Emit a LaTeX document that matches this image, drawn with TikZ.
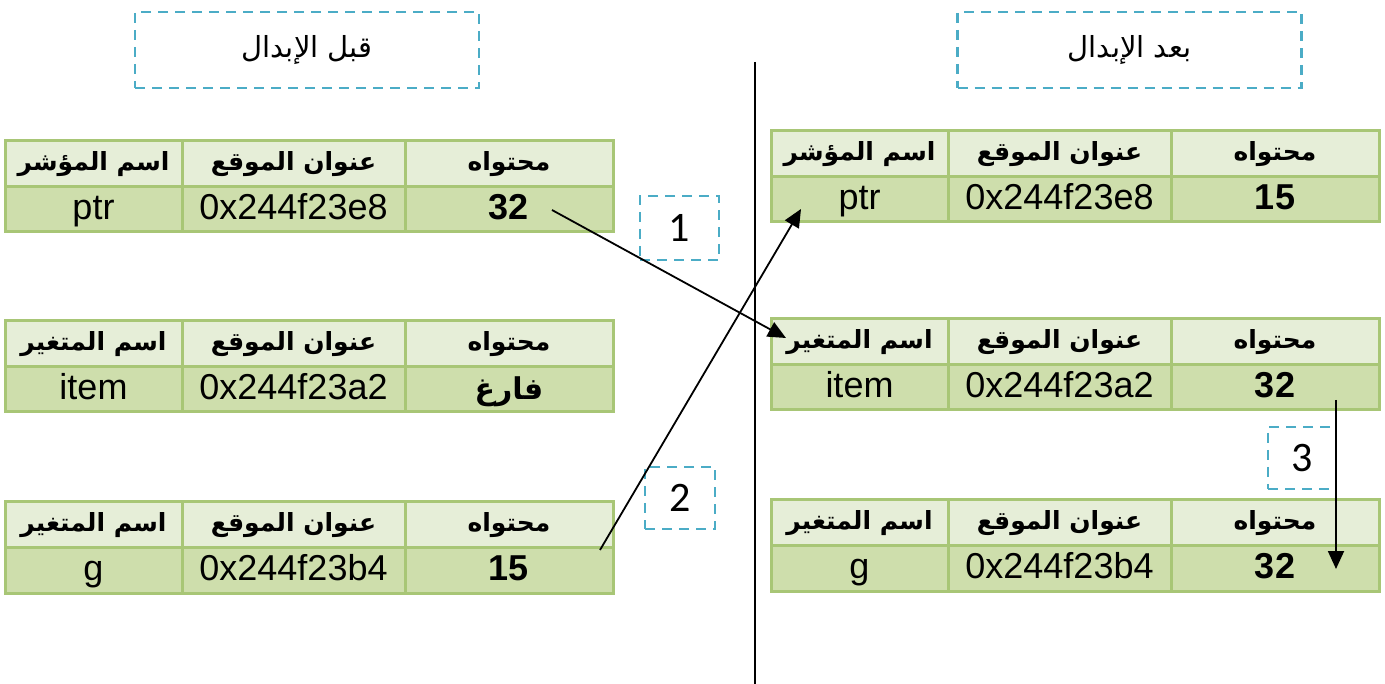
\documentclass[tikz,border=0pt]{standalone}
\usepackage{fontspec}
\setmainfont{Liberation Sans}
\newfontfamily\arabicfont[Script=Arabic]{DejaVu Sans}
\newfontfamily\numfont{Carlito}
\TeXXeTstate=1
\usetikzlibrary{arrows.meta}
\definecolor{gridgreen}{RGB}{168,198,118}
\definecolor{headfill}{RGB}{230,238,216}
\definecolor{datafill}{RGB}{206,222,172}
\definecolor{dashblue}{RGB}{75,172,198}
\tikzset{
  cellbase/.style={draw=gridgreen, line width=3pt, outer sep=0pt, inner sep=0pt,
    minimum height=45.5pt, anchor=north west, text=black},
  hcell/.style={cellbase, fill=headfill, font=\arabicfont\fontsize{25}{28}\selectfont\bfseries},
  dcell/.style={cellbase, fill=datafill, font=\fontsize{36}{40}\selectfont,
    text height=26pt, text depth=6pt},
  titlebox/.style={draw=dashblue, line width=2.5pt, dash pattern=on 10pt off 7pt,
    minimum width=344pt, minimum height=76pt, font=\arabicfont\fontsize{29}{33}\selectfont},
  numbox/.style={draw=dashblue, line width=2.5pt, dash pattern=on 10pt off 7pt,
    font=\numfont\fontsize{42}{46}\selectfont},
  conn/.style={draw=black, line width=1.8pt, -{Triangle[length=18pt,width=16pt]}},
}
% #1 name, #2 x, #3 y, #4 header name col, #5 var, #6 address, #7 content
\newcommand\memtab[7]{%
  \node[hcell, minimum width=177pt] (#1h1) at (#2,#3) {#4};
  \node[hcell, minimum width=223pt] (#1h2) at (#1h1.north east) {\beginR عنوان الموقع\endR};
  \node[hcell, minimum width=208pt] (#1h3) at (#1h2.north east) {\beginR محتواه\endR};
  \node[dcell, minimum width=177pt] (#1d1) at (#1h1.south west) {#5};
  \node[dcell, minimum width=223pt] (#1d2) at (#1h2.south west) {#6};
  \node[dcell, minimum width=208pt] (#1d3) at (#1h3.south west) {#7};
}
\begin{document}
\begin{tikzpicture}[x=1pt,y=-1pt]
\useasboundingbox (0,0) rectangle (1385,684);
% titles
\node[titlebox] (tleft) at (307,50) {\beginR قبل الإبدال\endR};
\node[titlebox] (tright) at (1129.5,50) {\beginR بعد الإبدال\endR};
% separator
\coordinate (sepTop) at (755,62);
\coordinate (sepBot) at (755,684);
\draw[line width=2pt] (sepTop) -- (sepBot);
% left tables
\memtab{La}{5}{141}{\beginR اسم المؤشر\endR}{ptr}{0x244f23e8}{\bfseries 32}
\memtab{Lb}{5}{321}{\beginR اسم المتغير\endR}{item}{0x244f23a2}{{\arabicfont\fontsize{30}{34}\selectfont\bfseries\beginR فارغ\endR}}
\memtab{Lc}{5}{502}{\beginR اسم المتغير\endR}{g}{0x244f23b4}{\bfseries 15}
% right tables
\memtab{Ra}{771}{131}{\beginR اسم المؤشر\endR}{ptr}{0x244f23e8}{\bfseries 15}
\memtab{Rb}{771}{319}{\beginR اسم المتغير\endR}{item}{0x244f23a2}{\bfseries 32}
\memtab{Rc}{771}{500}{\beginR اسم المتغير\endR}{g}{0x244f23b4}{\bfseries 32}
% number boxes
\node[numbox, minimum width=79pt, minimum height=64pt] (n1) at (679.5,228) {1};
\node[numbox, minimum width=70pt, minimum height=62pt] (n2) at (680,498) {2};
\node[numbox, minimum width=68pt, minimum height=62pt] (n3) at (1302,458) {3};
% arrows
\coordinate (a1s) at (552,210);
\coordinate (a1e) at (786,338);
\coordinate (a2s) at (600,550);
\coordinate (a2e) at (801,209);
\coordinate (a3s) at (1336,400);
\coordinate (a3e) at (1336,569);
\draw[conn] (a1s) -- (a1e);
\draw[conn] (a2s) -- (a2e);
\draw[conn] (a3s) -- (a3e);
\end{tikzpicture}
\end{document}
